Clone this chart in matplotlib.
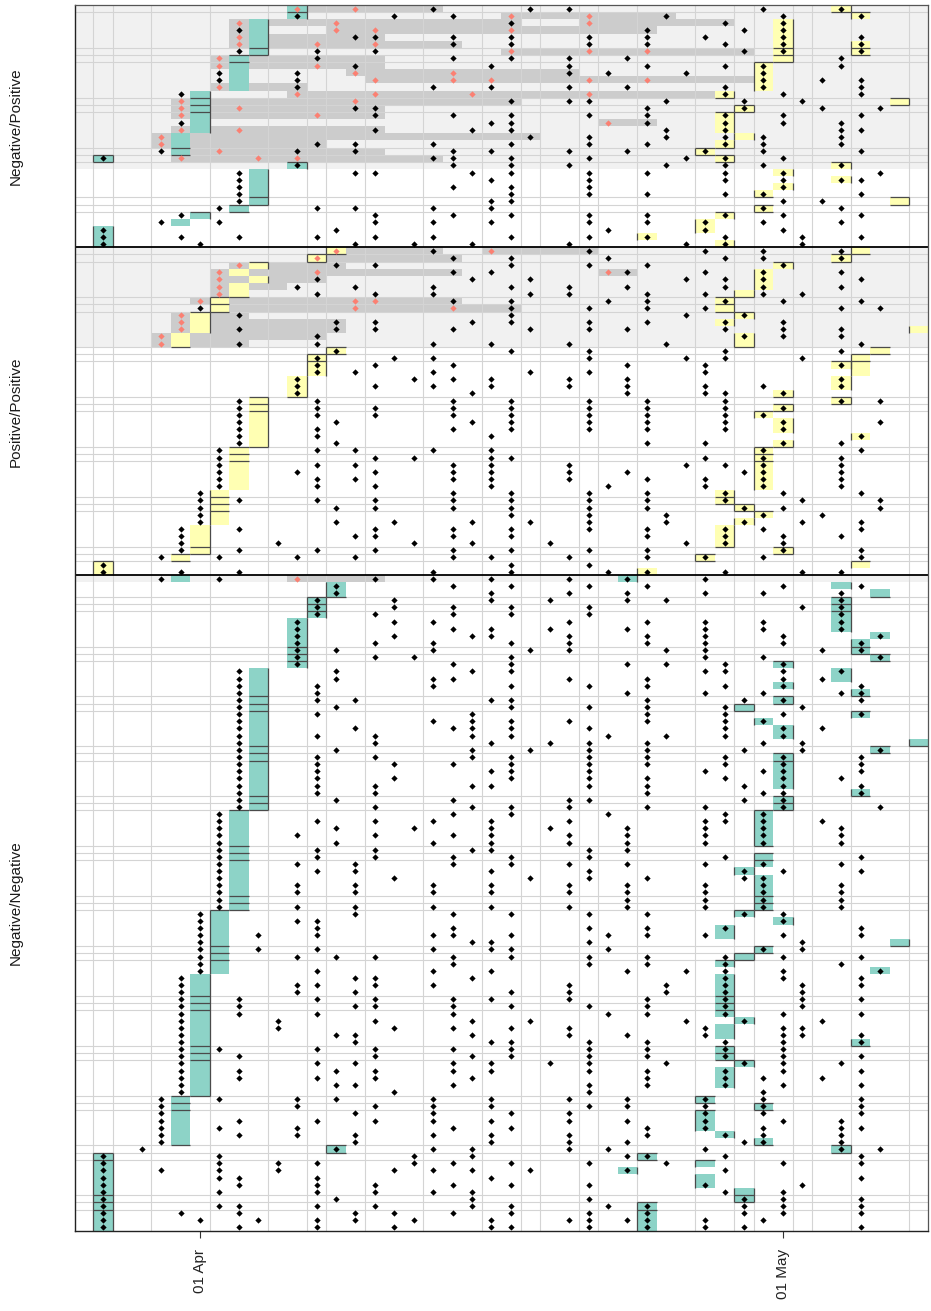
import datetime as dt
import matplotlib
matplotlib.use("Agg")
import matplotlib.pyplot as plt
import matplotlib.dates as mdates
from matplotlib.collections import LineCollection

plt.rcParams['font.family'] = ['Liberation Sans', 'DejaVu Sans']

# ---------------- data (days relative to 01 Apr) ----------------
FACETS = ["Negative/Positive", "Positive/Positive", "Negative/Negative"]
SHADED_ROWS = [23, 14, 1]

TOP_BLACK = [
    [12, 17, 19, 29, 33], [5, 10, 13, 24, 30, 34], [16, 27, 30], [2, 23, 28, 30],
    [8, 9, 13, 16, 20, 23, 26, 30, 34], [13, 16, 20, 23, 27, 30, 34], [2, 6, 9, 28, 30, 34],
    [6, 13, 16, 19, 22, 33], [8, 15, 19, 23, 27, 29, 33], [1, 5, 19, 21, 25, 29],
    [1, 5, 29, 32, 34], [5, 12, 15, 19, 22, 27, 29, 34], [-1, 27, 30, 34],
    [16, 19, 20, 24, 28, 31], [8, 9, 23, 28, 32, 35], [9, 13, 16, 20, 23, 27, 30, 34],
    [-1, 15, 16, 23, 27, 30, 33], [9, 14, 16, 24, 27, 33, 34], [17, 20, 24, 27, 29, 33],
    [6, 8, 12, 16, 20, 23, 27, 29, 33], [-2, 5, 8, 13, 15, 19, 22, 26, 29, 34],
    [-5, 12, 13, 16, 20, 25, 27, 30], [5, 13, 16, 19, 24, 27, 29, 33],
    [2, 8, 9, 14, 16, 20, 23, 27, 30, 35], [2, 15, 20, 27, 30, 33, 34], [2, 13, 16, 20, 30],
    [2, 16, 20, 23, 27, 29, 34], [2, 15, 16, 30, 32], [1, 6, 8, 12, 15, 29, 33],
    [-1, 9, 13, 16, 20, 23, 27, 30, 34], [-2, 1, 9, 12, 15, 20, 23, 26, 29, 33],
    [-5, 7, 21, 26, 30], [-5, -1, 2, 6, 9, 12, 16, 20, 23, 27, 31, 34],
    [-5, 0, 8, 11, 14, 19, 25, 27, 31],
]
TOP_RED = [
    [5, 8], [16, 20], [2, 7, 20], [7, 9, 16], [2], [2, 6, 9], [16, 20, 23], [1], [1, 6],
    [8, 13], [9, 13, 15, 20, 23], [1], [5, 9, 14, 20], [-1, 8], [-1, 2], [-1, 6], [21],
    [-1, 2], [-2], [-2], [1], [-1, 3, 5],
    [], [], [], [], [], [], [], [], [], [], [], [],
]
TOP_TEAL = [
    [5], [5], [3], [3], [3], [3], [3], [2], [2], [2], [2], [2], [0], [0], [0], [0], [0], [0],
    [-1], [-1], [-1], [-5], [5], [3], [3], [3], [3], [3], [2], [0], [-1], [-5], [-5], [-5],
]
TOP_YELLOW = [
    [33], [34], [30], [30], [30], [30, 34], [30, 34], [30], [29], [29], [29], [29], [27],
    [36], [28], [27], [27], [27], [28], [27], [26], [27], [33], [30], [33], [30], [29],
    [36], [29], [27], [26], [26], [23], [27],
]
TOP_BANDS = [
    [(4.5, 12.5)], [(15.5, 24.5)], [(1.5, 16.5), (19.5, 27.5)], [(1.5, 3.5), (6.5, 23.5)],
    [(1.5, 9.5)], [(1.5, 13.5)], [(15.5, 28.5)], [(0.5, 9.5)], [(0.5, 9.5)], [(7.5, 19.5)],
    [(8.5, 28.5)], [(0.5, 5.5)], [(4.5, 26.5)], [(-1.5, 16.5)], [(-1.5, 9.5)], [(-1.5, 9.5)],
    [(20.5, 23.5)], [(-1.5, 9.5)], [(-2.5, 17.5)], [(-2.5, 6.5)], [(-0.5, 9.5)],
    [(-1.5, 12.5)],
    [], [], [], [], [], [], [], [], [], [], [], [],
]

MID_BLACK = [
    [12, 20, 26, 29, 33], [13, 16, 21, 27, 29, 33], [7, 9, 16, 20, 23, 30],
    [13, 15, 22, 26, 29, 33], [6, 14, 17, 25, 27, 29, 34], [5, 8, 12, 16, 19, 22, 27, 29, 33],
    [6, 9, 12, 17, 19, 23, 26, 29, 31], [13, 16, 21, 23, 27, 30, 34], [0, 16, 20, 23, 26, 33, 35],
    [2, 16, 25, 28], [7, 9, 14, 16, 20, 23, 27, 30], [2, 7, 9, 13, 17, 20, 22, 27, 30, 33],
    [6, 28, 30, 33], [2, 6, 12, 15, 19, 24, 34], [7, 16, 20, 27, 33],
    [6, 10, 12, 20, 25, 27, 31], [6, 9, 13, 22, 26, 33], [6, 8, 12, 17, 20, 26],
    [5, 11, 13, 15, 19, 22, 33], [5, 9, 12, 15, 19, 22, 26, 29, 33], [5, 14, 22, 26, 27, 30],
    [2, 6, 13, 16, 20, 23, 27, 33, 35], [2, 6, 9, 13, 16, 20, 23, 27, 30],
    [2, 6, 9, 13, 16, 20, 23, 27, 29], [2, 7, 14, 16, 20, 23, 27, 30, 35],
    [2, 6, 13, 16, 20, 23, 27, 30], [2, 6, 15, 34], [2, 7, 23, 26, 30, 33],
    [1, 6, 8, 12, 15, 29, 34], [1, 9, 11, 15, 16, 26, 29, 33],
    [1, 6, 8, 13, 15, 19, 25, 27, 29, 33], [1, 5, 9, 13, 15, 19, 22, 28, 29, 33],
    [1, 6, 8, 13, 15, 19, 23, 26, 29, 33], [1, 6, 9, 15, 21, 26, 29, 33],
    [0, 13, 16, 20, 23, 27, 30, 34], [0, 2, 6, 9, 13, 16, 20, 23, 27, 31, 35],
    [0, 7, 9, 13, 16, 20, 23, 28, 30, 35], [0, 16, 20, 24, 29, 32],
    [0, 7, 10, 14, 17, 20, 24, 28, 31, 34], [-1, 2, 9, 13, 16, 20, 23, 27, 29, 34],
    [-1, 8, 9, 13, 16, 23, 27, 30, 33], [-1, 4, 11, 14, 18, 25, 27, 30],
    [-1, 2, 6, 9, 13, 16, 20, 23, 30, 34], [-2, 1, 5, 8, 13, 15, 19, 23, 26, 29, 34],
    [-5, 16, 20], [-5, -1, 2, 12, 16, 21, 23, 27, 31, 33],
]
MID_RED = [
    [7, 15], [6], [2], [1, 6, 21], [1], [1], [1], [0, 8, 9], [8, 13], [-1], [-1], [-1],
    [-2], [-2],
] + [[] for _ in range(32)]
MID_TEAL = [[] for _ in range(46)]
MID_YELLOW = [
    [7, 34], [6, 33], [3, 30], [2, 29], [3, 29], [2, 29], [2, 28], [1, 27], [1, 27], [0, 28],
    [0, 27], [0, 37], [-1, 28], [-1, 28], [7, 35], [6, 34], [6, 33, 34], [6, 34], [5, 33],
    [5, 33], [5, 30], [3, 33], [3, 30], [3, 29], [3, 30], [3, 30], [3, 34], [3, 30], [2, 29],
    [2, 29], [2, 29], [2, 29], [2, 29], [2, 29], [1, 27], [1, 27], [1, 28], [1, 29], [1, 28],
    [0, 27], [0, 27], [0, 27], [0, 30], [-1, 26], [-5, 34], [-5, 23],
]
MID_BANDS = [
    [(7.5, 12.5), (14.5, 20.5)], [(6.5, 13.5)], [(1.5, 7.5)], [(0.5, 13.5), (20.5, 22.5)],
    [(0.5, 6.5)], [(0.5, 4.5)], [(0.5, 1.5)], [(-0.5, 13.5)], [(1.5, 16.5)], [(-1.5, 2.5)],
    [(-1.5, 7.5)], [(-1.5, 7.5)], [(-2.5, 6.5)], [(-2.5, 2.5)],
] + [[] for _ in range(32)]

BOT_BLACK = [
    [-2, 1, 9, 12, 15, 19, 22, 26], [7, 13, 16, 20, 23, 30, 34], [7, 15, 19, 22, 26, 29, 33],
    [6, 10, 15, 18, 22, 24, 33], [6, 10, 13, 16, 20, 31, 33], [6, 9, 13, 16, 20, 33],
    [5, 10, 12, 19, 23, 26, 29, 33], [5, 13, 15, 18, 22, 26, 29, 33],
    [5, 10, 14, 15, 19, 23, 26, 30, 35], [5, 9, 12, 16, 19, 23, 26, 30, 34],
    [5, 7, 12, 17, 19, 24, 26, 32, 34], [5, 9, 11, 16, 26, 29, 35], [5, 13, 16, 22, 24, 27, 30],
    [2, 7, 14, 16, 26, 27, 30, 33], [2, 7, 12, 13, 19, 23, 30, 32],
    [2, 6, 12, 16, 20, 23, 27, 30, 34], [2, 6, 22, 26, 29, 33, 34],
    [2, 6, 8, 15, 16, 23, 28, 30, 34], [2, 7, 16, 20, 23, 27, 31], [2, 6, 14, 23, 27, 30, 34],
    [2, 12, 14, 16, 19, 23, 27, 29], [2, 8, 13, 14, 16, 20, 27, 30, 32],
    [2, 6, 9, 14, 16, 21, 24, 27, 30], [2, 9, 15, 18, 20, 23, 29, 31],
    [2, 7, 14, 17, 20, 23, 28, 31, 35], [2, 6, 9, 14, 16, 20, 23, 27, 30, 34],
    [2, 6, 10, 13, 16, 20, 23, 27, 30, 34], [2, 6, 15, 16, 20, 26, 29, 30, 34],
    [2, 6, 10, 16, 20, 23, 27, 30, 33], [2, 6, 9, 14, 15, 20, 23, 28, 30, 34],
    [2, 6, 9, 23, 29, 30, 34], [2, 7, 13, 19, 20, 28, 30], [2, 9, 14, 16, 19, 23, 26, 30, 35],
    [1, 13, 16, 21, 27, 29], [1, 6, 9, 12, 15, 19, 26, 27, 29, 32],
    [1, 7, 11, 15, 18, 22, 26, 29, 33], [1, 5, 9, 13, 15, 19, 22, 26, 29, 33],
    [1, 7, 12, 15, 19, 22, 26, 29, 33], [1, 6, 9, 14, 15, 20, 22], [1, 6, 9, 13, 16, 20, 27, 34],
    [1, 5, 8, 13, 16, 19, 22, 26, 29, 33], [1, 6, 8, 15, 20, 28, 30, 34],
    [1, 10, 17, 20, 23, 28, 29], [1, 5, 8, 12, 15, 19, 22, 26, 29, 33],
    [1, 5, 8, 12, 15, 19, 22, 26, 29, 33], [1, 22, 26, 29, 33],
    [1, 5, 8, 12, 15, 19, 22, 26, 29, 33], [0, 8, 13, 16, 20, 23, 28, 30], [0, 5, 6, 30],
    [0, 6, 13, 20, 23, 27, 34], [0, 3, 6, 12, 13, 16, 21, 23, 26, 30, 34], [0, 14, 15, 20, 31],
    [0, 3, 6, 12, 15, 16, 21, 29, 31], [0, 5, 7, 9, 13, 16, 20, 23, 27, 30, 34],
    [0, 13, 20, 23, 27, 33], [0, 6, 12, 15, 22, 25, 27, 30, 35], [-1, 8, 9, 14, 27, 30, 34],
    [-1, 5, 6, 9, 12, 19, 24, 27, 31, 34], [-1, 5, 8, 16, 19, 24, 27, 31],
    [-1, 2, 6, 9, 13, 15, 19, 23, 27, 31, 34], [-1, 2, 8, 9, 13, 16, 20, 23, 27, 31],
    [-1, 2, 6, 13, 21, 23, 27, 30, 34], [-1, 4, 9, 14, 17, 25, 28, 32],
    [-1, 4, 10, 13, 16, 19, 26, 30, 31], [-1, 7, 8, 14, 19, 22, 26, 30, 31, 34],
    [-1, 8, 15, 16, 20, 23, 27, 30, 34], [-1, 1, 6, 9, 13, 16, 20, 23, 27, 30],
    [-1, 2, 9, 14, 16, 20, 23, 27, 30, 34], [-1, 6, 8, 13, 15, 18, 20, 24, 28, 30, 33],
    [-1, 2, 7, 9, 13, 15, 20, 23, 27, 30, 34], [-1, 2, 6, 9, 14, 23, 27, 29, 32],
    [-1, 7, 8, 13, 20, 23, 27, 30, 34], [-1, 10, 20, 29],
    [-2, 1, 5, 7, 12, 15, 19, 22, 26, 29, 34], [-2, 5, 9, 12, 15, 20, 22, 26, 29, 34],
    [-2, 8, 12, 16, 19, 26, 29, 34], [-2, 2, 6, 9, 12, 15, 19, 22, 26, 30, 33],
    [-2, 1, 5, 13, 16, 23, 26, 29, 33, 34], [-2, 2, 5, 8, 12, 15, 19, 23, 27, 29, 33],
    [-2, 8, 15, 19, 22, 28, 29, 33], [-3, 7, 12, 14, 19, 21, 26, 33, 35],
    [-5, 1, 11, 14, 22, 23, 27, 34], [-5, 1, 4, 6, 11, 13, 16, 20, 24, 30, 34],
    [-5, -2, 1, 4, 10, 12, 14, 17, 22, 27], [-5, 1, 2, 6, 15, 34],
    [-5, 2, 6, 9, 13, 16, 20, 26, 31], [-5, 1, 6, 9, 12, 14, 27, 30], [-5, 7, 14, 20, 28, 30, 34],
    [-5, 1, 2, 6, 9, 14, 16, 21, 23, 28, 30, 34], [-5, -1, 2, 8, 10, 13, 16, 20, 23, 28, 30, 34],
    [-5, 0, 3, 6, 8, 11, 15, 19, 20, 22, 23, 26, 29], [-5, 2, 6, 10, 15, 16, 20, 23, 26, 28, 34],
]
BOT_RED = [[5]] + [[] for _ in range(91)]
BOT_TEAL = [
    [-1, 22], [7, 33], [7, 35], [6, 33], [6, 33], [6, 33], [5, 33], [5, 33], [5, 35], [5, 34],
    [5, 34], [5, 35], [5, 30], [3, 33], [3, 33], [3, 30], [3, 34], [3, 30], [3, 28], [3, 34],
    [3, 29], [3, 30], [3, 30], [3, 37], [3, 35], [3, 30], [3, 30], [3, 30], [3, 30], [3, 30],
    [3, 34], [3, 30], [3, 30], [2, 29], [2, 29], [2, 29], [2, 29], [2, 29], [2], [2, 29],
    [2, 29], [2, 28], [2, 29], [2, 29], [2, 29], [2, 29], [2, 29], [1, 28], [1, 30], [1, 27],
    [1, 27], [1, 36], [1, 29], [1, 28], [1, 27], [1, 35], [0, 27], [0, 27], [0, 27], [0, 27],
    [0, 27], [0, 27], [0, 28], [0, 27], [0, 27], [0, 34], [0, 27], [0, 27], [0, 28], [0, 27],
    [0, 27], [0, 27], [0], [-1, 26], [-1, 29], [-1, 26], [-1, 26], [-1, 26], [-1, 27], [-1, 29],
    [7, 33], [-5, 23], [-5, 26], [-5, 22], [-5, 26], [-5, 26], [-5, 28], [-5, 28], [-5, 23],
    [-5, 23], [-5, 23], [-5, 23],
]
BOT_YELLOW = [[] for _ in range(92)]
BOT_BANDS = [[(4.5, 9.5)]] + [[] for _ in range(91)]

VGRID_DAYS = [-5.5, -4.5, -2.5, 0.5, 3.5, 5.5, 6.5, 8.5, 11.5, 14.5, 16.5, 17.5, 19.5,
              20.5, 22.5, 25.5, 27.5, 28.5, 30.5, 31.5, 33.5, 36.5]
HGRID_ROWS = [1, 6, 7, 8, 13, 14, 15, 20, 21, 22, 27, 28, 29, 35, 36, 41, 42, 43, 48, 49, 50,
              55, 56, 57, 62, 63, 64, 69, 70, 71, 76, 77, 78, 83, 84, 85, 90, 91, 92, 97, 98,
              99, 104, 105, 106, 111, 112, 113, 118, 119, 120, 125, 126, 127, 132, 133, 134,
              139, 140, 141, 146, 147, 148, 153, 154, 155, 160, 161, 162, 167, 168, 169]

# ---------------- styling ----------------
C_TEAL = '#8dd3c7'
C_YELLOW = '#ffffb3'
C_RED = '#fb8072'
C_BAND = '#cccccc'
C_SHADE = '#f1f1f1'
C_GRID = '#d4d4d4'
C_DARK = '#4a4a4a'

facets = [
    dict(black=TOP_BLACK, red=TOP_RED, teal=TOP_TEAL, yellow=TOP_YELLOW, bands=TOP_BANDS),
    dict(black=MID_BLACK, red=MID_RED, teal=MID_TEAL, yellow=MID_YELLOW, bands=MID_BANDS),
    dict(black=BOT_BLACK, red=BOT_RED, teal=BOT_TEAL, yellow=BOT_YELLOW, bands=BOT_BANDS),
]
sizes = [len(f['black']) for f in facets]
offsets = [0, sizes[0], sizes[0] + sizes[1]]
total = sum(sizes)

base = mdates.date2num(dt.date(2020, 4, 1))

W, H = 931, 1311
fig = plt.figure(figsize=(W / 100, H / 100), dpi=100)
ax = fig.add_axes([75 / W, 1 - 1231 / H, 853 / W, 1226 / H])
ax.set_xlim(base - 6.43, base + 37.47)
ax.set_ylim(total, 0)

# shaded rows
for off, n in zip(offsets, SHADED_ROWS):
    ax.axhspan(off, off + n, color=C_SHADE, lw=0, zorder=0)

# grey bands
by, bl, bw = [], [], []
for f, off in zip(facets, offsets):
    for r, bands in enumerate(f['bands']):
        for s, e in bands:
            by.append(off + r + 0.5)
            bl.append(base + s)
            bw.append(e - s)
ax.barh(by, bw, left=bl, height=1.0, color=C_BAND, lw=0, zorder=1)

# light grid
for v in VGRID_DAYS:
    ax.axvline(base + v, color=C_GRID, lw=0.8, zorder=2)
for g in HGRID_ROWS:
    ax.axhline(g, color=C_GRID, lw=0.8, zorder=2)

# boxes
for key, col in (('teal', C_TEAL), ('yellow', C_YELLOW)):
    ys, ls = [], []
    for f, off in zip(facets, offsets):
        for r, days in enumerate(f[key]):
            for d in days:
                ys.append(off + r + 0.5)
                ls.append(base + d - 0.5)
    ax.barh(ys, [1.0] * len(ys), left=ls, height=1.0, color=col, lw=0, zorder=3)

# grid lines crossing boxes appear dark
segs = []
for f, off in zip(facets, offsets):
    for key in ('teal', 'yellow'):
        rows = f[key]
        alldays = sorted({d for row in rows for d in row})
        for d in alldays:
            r = 0
            while r < len(rows):
                if d in rows[r]:
                    r0 = r
                    while r < len(rows) and d in rows[r]:
                        r += 1
                    y0, y1 = off + r0, off + r
                    x0, x1 = base + d - 0.5, base + d + 0.5
                    for g in HGRID_ROWS:
                        if y0 <= g <= y1:
                            segs.append([(x0, g), (x1, g)])
                    for v in VGRID_DAYS:
                        if d - 0.5 - 1e-6 <= v <= d + 0.5 + 1e-6:
                            segs.append([(base + v, y0), (base + v, y1)])
                else:
                    r += 1
ax.add_collection(LineCollection(segs, colors=C_DARK, linewidths=0.9, zorder=4))

# points
for key, col in (('black', 'black'), ('red', C_RED)):
    xs, ys = [], []
    for f, off in zip(facets, offsets):
        for r, days in enumerate(f[key]):
            for d in days:
                xs.append(base + d)
                ys.append(off + r + 0.5)
    ax.plot(xs, ys, 'D', ms=3.2, color=col, mew=0, ls='none', zorder=5)

# facet separators
for off in offsets[1:]:
    ax.axhline(off, color='black', lw=1.3, zorder=6)

for sp in ax.spines.values():
    sp.set_color('#555555')
    sp.set_linewidth(0.9)
    sp.set_zorder(7)
for s in ('left', 'bottom'):
    ax.spines[s].set_color('#222222')
    ax.spines[s].set_linewidth(1.0)

ax.set_yticks([])
ax.xaxis.set_major_locator(mdates.MonthLocator())
ax.xaxis.set_major_formatter(mdates.DateFormatter('%d %b'))
ax.tick_params(axis='x', length=5, width=0.8, color='#333333', labelsize=11,
               labelcolor='#222222', labelrotation=90, pad=8)

for name, off, n in zip(FACETS, offsets, sizes):
    yc = off + n / 2
    yfig = ax.transData.transform((base, yc))[1] / (H)
    fig.text(16 / W, yfig, name, rotation=90, ha='center', va='center',
             fontsize=11, color='#1a1a1a')

fig.savefig('out.png', dpi=100)
